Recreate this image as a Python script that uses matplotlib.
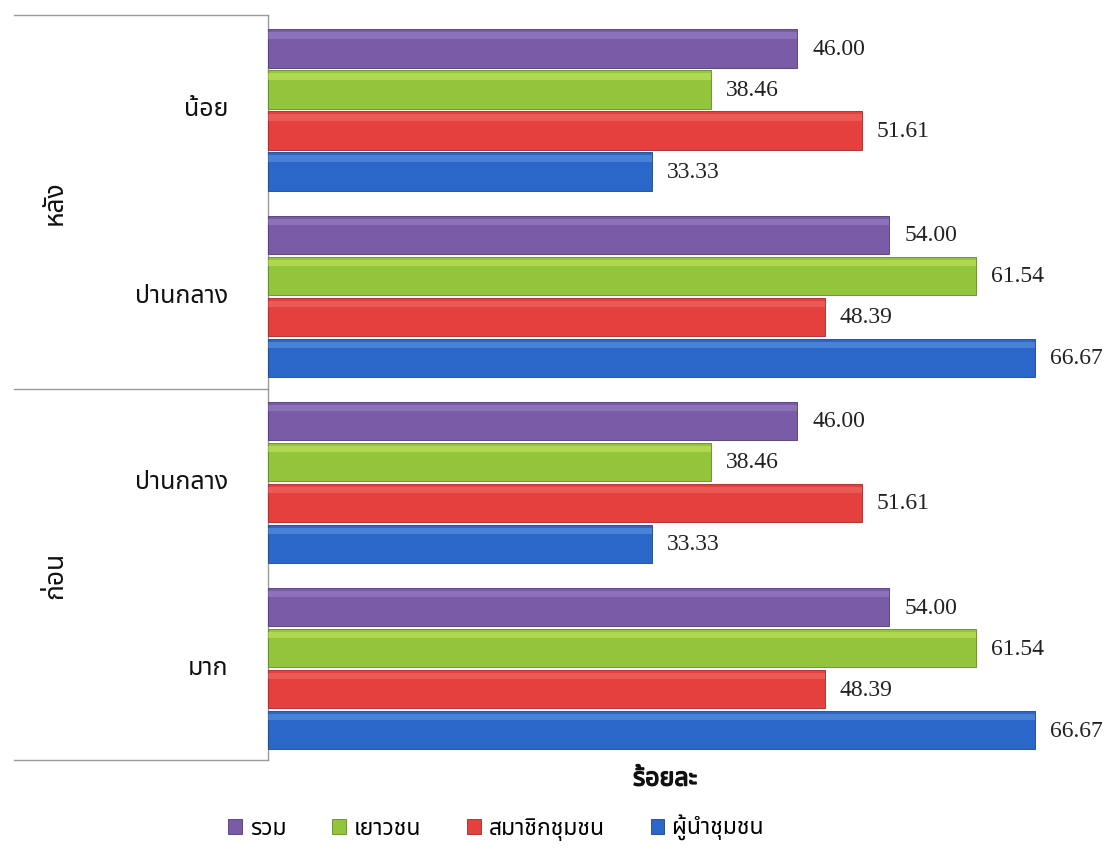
import numpy as np
import matplotlib
matplotlib.use("Agg")
import matplotlib.pyplot as plt
import matplotlib.patches as mpatches
import matplotlib.patheffects as pe
import matplotlib.transforms as mtransforms
from matplotlib import font_manager
from matplotlib.ft2font import FT2Font

# ── data ────────────────────────────────────────────────────────────────────
# categories from bottom to top
levels = ["มาก", "ปานกลาง", "ปานกลาง", "น้อย"]
periods = ["ก่อน", "หลัง"]          # bottom half, top half
series = ["รวม", "เยาวชน", "สมาชิกชุมชน", "ผู้นำชุมชน"]

total = [54.00, 46.00, 54.00, 46.00]
youth = [61.54, 38.46, 61.54, 38.46]
member = [48.39, 51.61, 48.39, 51.61]
leader = [66.67, 33.33, 66.67, 33.33]

colors = ["#7a5ba8", "#92c53c", "#e5403e", "#2b67c9"]
light = ["#a48fce", "#d6ee6a", "#f47a70", "#6fa2ea"]
dark = ["#4e3878", "#5f8a22", "#a82422", "#1a458e"]


def thai_font():
    preferred = ["Noto Sans Thai", "Noto Sans Thai UI", "Noto Serif Thai",
                 "Loma", "Garuda", "Norasi", "Kinnari", "Waree", "Sawasdee",
                 "Tlwg Typo", "Umpush"]
    names = {f.name for f in font_manager.fontManager.ttflist}
    for n in preferred:
        if n in names:
            return n
    for f in font_manager.fontManager.ttflist:
        try:
            if 0x0E01 in FT2Font(f.fname).get_charmap():
                return f.name
        except Exception:
            continue
    return "DejaVu Sans"


TH = [thai_font(), "DejaVu Sans"]
NUM = ["Liberation Serif", "DejaVu Serif"]

W, H = 1105, 851
fig = plt.figure(figsize=(W / 100, H / 100), dpi=100, facecolor="white")
ax = fig.add_axes([268 / W, 1 - 760 / H, (1062 - 268) / W, (760 - 15) / H])

slot = 0.22
bh = 0.205
ypos = np.arange(len(levels))
vals = [total, youth, member, leader]

for j, v in enumerate(vals):
    y = ypos + (1.5 - j) * slot
    ax.barh(y, v, height=bh, color=colors[j], edgecolor=dark[j],
            linewidth=0.6, zorder=3)
    # soft highlight near the top of each bar (3-D look)
    ax.barh(y + bh * 0.34, v, height=bh * 0.16, color=light[j],
            alpha=0.45, linewidth=0, zorder=4)
    for yy, vv in zip(y, v):
        ax.text(vv + 1.3, yy - 0.005, f"{vv:.2f}", ha="left", va="center",
                fontsize=17, family=NUM, color="#222222", zorder=5)

ax.set_xlim(0, 69)
ax.set_ylim(-0.49, 3.51)
ax.set_xticks([])
ax.set_yticks([])
for s in ["top", "right", "bottom"]:
    ax.spines[s].set_visible(False)
ax.spines["left"].set_color("#9a9a9a")
ax.spines["left"].set_linewidth(1.0)

# multi-level category axis
tr = mtransforms.blended_transform_factory(fig.transFigure, ax.transData)
for yl in [3.51, 1.5, -0.49]:
    ax.plot([14 / W, 268 / W], [yl, yl], transform=tr, color="#9a9a9a",
            lw=1.0, clip_on=False)

for i, lab in enumerate(levels):
    ax.text(228 / W, i, lab, transform=tr, ha="right", va="center",
            fontsize=18, family=TH, color="#111111")

for k, p in enumerate(periods):
    ax.text(55 / W, 0.5 + 2 * k, p, transform=tr, ha="center", va="center",
            rotation=90, fontsize=19, family=TH, color="#111111")

# axis title (stroke fakes bold if the Thai font has no bold face)
fig.text(665 / W, 1 - 779 / H, "ร้อยละ", ha="center", va="center",
         fontsize=18, fontweight="bold", family=TH, color="#111111",
         path_effects=[pe.withStroke(linewidth=1.0, foreground="#111111")])

handles = [mpatches.Patch(facecolor=c, edgecolor=d, lw=0.6, label=s)
           for c, d, s in zip(colors, dark, series)]
fig.legend(handles=handles, loc="center", ncol=4,
           bbox_to_anchor=(496 / W, 1 - 828 / H), frameon=False,
           prop={"family": TH, "size": 16.5}, handlelength=0.6,
           handleheight=0.6, columnspacing=2.0, handletextpad=0.35)

fig.savefig("out.png", dpi=100, facecolor="white")
